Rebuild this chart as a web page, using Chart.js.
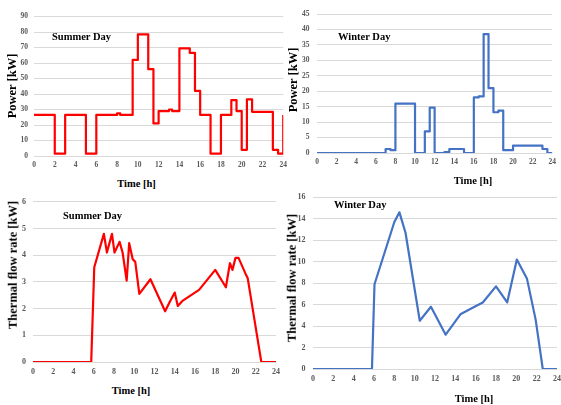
<!DOCTYPE html>
<html>
<head>
<meta charset="utf-8">
<script src="https://cdn.jsdelivr.net/npm/chart.js@4/dist/chart.umd.min.js"></script>
<style>
  html, body { margin: 0; padding: 0; background: #ffffff; width: 561px; height: 405px; overflow: hidden; }
  .box { position: absolute; }
  .txt { position: absolute; font-family: "Liberation Serif", "Times New Roman", serif; font-weight: bold; color: #000; white-space: nowrap; line-height: 1; }
  .c { transform: translate(-50%, -50%); }
  .v { transform: translate(-50%, -50%) rotate(-90deg); }
  .l { transform: translate(0, -50%); }
</style>
</head>
<body>
<div class="box" id="b1" style="left:0px;top:6px;width:292px;height:170px;"><canvas id="c1"></canvas></div>
<div class="box" id="b2" style="left:281px;top:2px;width:280px;height:171px;"><canvas id="c2"></canvas></div>
<div class="box" id="b3" style="left:0px;top:190px;width:285px;height:192px;"><canvas id="c3"></canvas></div>
<div class="box" id="b4" style="left:280px;top:185px;width:286px;height:204px;"><canvas id="c4"></canvas></div>

<div class="txt v" style="left:12px;top:85.5px;font-size:12.5px;">Power [kW]</div>
<div class="txt c" style="left:136.5px;top:184px;font-size:10.5px;">Time [h]</div>
<div class="txt l" style="left:52px;top:37px;font-size:10.5px;">Summer Day</div>

<div class="txt v" style="left:293px;top:80px;font-size:12.5px;">Power [kW]</div>
<div class="txt c" style="left:473px;top:181px;font-size:10.5px;">Time [h]</div>
<div class="txt l" style="left:338px;top:37px;font-size:10.5px;">Winter Day</div>

<div class="txt v" style="left:12.5px;top:265px;font-size:12.5px;">Thermal flow rate [kW]</div>
<div class="txt c" style="left:131px;top:391px;font-size:10.5px;">Time [h]</div>
<div class="txt l" style="left:63px;top:215.5px;font-size:10.5px;">Summer Day</div>

<div class="txt v" style="left:291.5px;top:278px;font-size:12.5px;">Thermal flow rate [kW]</div>
<div class="txt c" style="left:474px;top:399px;font-size:10.5px;">Time [h]</div>
<div class="txt l" style="left:334px;top:205px;font-size:10.5px;">Winter Day</div>

<script>
// ---- Data ----
// Electric power, summer day (step profile: value holds from each hour until the next)
const summerPowerHours = [0, 2, 3, 5, 6, 8, 8.3, 9.5, 10, 11, 11.5, 12, 13, 13.3, 14, 15, 15.5, 16, 17, 18, 19, 19.5, 20, 20.5, 21, 23, 23.5, 24];
const summerPowerKW    = [26.5, 1.5, 26.5, 1.5, 26.5, 27.5, 26.5, 62, 78.5, 56, 21, 29, 30, 29, 69.5, 66.5, 42, 26.5, 1.5, 26.5, 36, 29, 4, 36.5, 28.5, 4, 1.5, 26.5];

// Electric power, winter day (step profile)
const winterPowerHours = [0, 7, 7.5, 8, 10, 11, 11.5, 12, 13, 13.5, 15, 16, 16.5, 17, 17.5, 18, 18.5, 19, 20, 23, 23.5, 24];
const winterPowerKW    = [0, 1.3, 0.9, 16, 0, 7, 14.7, 0, 0.3, 1.3, 0, 18, 18.3, 38.5, 21, 13.2, 13.7, 0.9, 2.4, 1.3, 0, 0];

// Thermal flow rate, summer day
const summerThermalHours = [0, 5.75, 6.05, 7.0, 7.3, 7.8, 8.05, 8.55, 8.85, 9.25, 9.5, 9.85, 10.1, 10.5, 11.6, 13.05, 13.5, 14.0, 14.3, 14.8, 16.4, 18.0, 19.05, 19.45, 19.7, 20.0, 20.3, 21.0, 21.2, 22.55, 24];
const summerThermalKW    = [0, 0, 3.55, 4.8, 4.1, 4.8, 4.1, 4.5, 4.1, 3.05, 4.45, 3.85, 3.75, 2.55, 3.1, 1.9, 2.25, 2.6, 2.1, 2.3, 2.7, 3.45, 2.8, 3.7, 3.45, 3.9, 3.9, 3.3, 3.15, 0, 0];

// Thermal flow rate, winter day
const winterThermalHours = [0, 5.8, 6.05, 8.0, 8.5, 9.1, 10.5, 11.6, 13.05, 14.5, 15.7, 16.7, 18.0, 19.1, 20.05, 21.05, 21.9, 22.6, 24];
const winterThermalKW    = [0, 0, 7.9, 13.7, 14.6, 12.7, 4.5, 5.8, 3.2, 5.1, 5.7, 6.2, 7.7, 6.2, 10.2, 8.4, 4.6, 0, 0];

// Axis ranges / tick steps
const hourAxis = { min: 0, max: 24, step: 2 };
const summerPowerAxis = { min: 0, max: 90, step: 10 };
const winterPowerAxis = { min: 0, max: 45, step: 5 };
const summerThermalAxis = { min: 0, max: 6, step: 1 };
const winterThermalAxis = { min: 0, max: 16, step: 2 };

// ---- Chart building ----
const RED = '#ff0000';
const BLUE = '#4472c4';

function pts(xs, ys) { return xs.map((x, i) => ({ x: x, y: ys[i] })); }

function makeChart(id, xs, ys, color, stepped, yAxis, yWidth, padRight, fontSize, tickPadY) {
  const ctx = document.getElementById(id);
  return new Chart(ctx, {
    type: 'line',
    data: {
      datasets: [{
        data: pts(xs, ys),
        borderColor: color,
        backgroundColor: color,
        borderWidth: 2.2,
        pointRadius: 0,
        pointHoverRadius: 0,
        tension: 0,
        stepped: stepped ? 'before' : false,
        fill: false,
        borderJoinStyle: 'round',
        borderCapStyle: 'butt'
      }]
    },
    options: {
      responsive: true,
      maintainAspectRatio: false,
      animation: false,
      events: [],
      layout: { padding: { top: 8, right: padRight, left: 0, bottom: 0 } },
      plugins: { legend: { display: false }, tooltip: { enabled: false }, title: { display: false } },
      scales: {
        x: {
          type: 'linear',
          min: hourAxis.min, max: hourAxis.max,
          grid: { display: false, drawTicks: false },
          border: { display: false },
          ticks: {
            stepSize: hourAxis.step,
            autoSkip: false,
            maxRotation: 0,
            padding: 5,
            color: '#595959',
            font: { family: '"Liberation Serif", "Times New Roman", serif', size: fontSize, weight: 'bold' }
          },
          afterFit: (s) => { s.height = 20; }
        },
        y: {
          type: 'linear',
          min: yAxis.min, max: yAxis.max,
          grid: { color: '#d9d9d9', lineWidth: 1, drawTicks: false },
          border: { display: false },
          ticks: {
            stepSize: yAxis.step,
            autoSkip: false,
            padding: tickPadY,
            color: '#595959',
            font: { family: '"Liberation Serif", "Times New Roman", serif', size: fontSize, weight: 'bold' }
          },
          afterFit: (s) => { s.width = yWidth; }
        }
      }
    }
  });
}

makeChart('c1', summerPowerHours, summerPowerKW, RED, true, summerPowerAxis, 34, 8, 7.5, 6);
makeChart('c2', winterPowerHours, winterPowerKW, BLUE, true, winterPowerAxis, 36, 5, 7.5, 7.5);
makeChart('c3', summerThermalHours, summerThermalKW, RED, false, summerThermalAxis, 33, 8, 8, 7);
makeChart('c4', winterThermalHours, winterThermalKW, BLUE, false, winterThermalAxis, 33, 8, 8, 7.5);
</script>
</body>
</html>
